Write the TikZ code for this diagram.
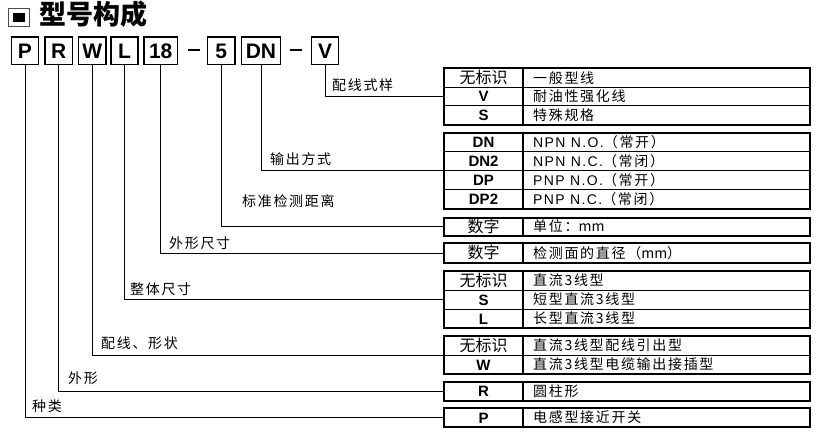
\documentclass[tikz,border=0pt]{standalone}
\usepackage{fontspec}
\setmainfont{Liberation Sans}
\newfontfamily\cj{Noto Sans CJK SC}
\newfontfamily\cjs[LetterSpace=12]{Noto Sans CJK SC}
\newfontfamily\lats[LetterSpace=10]{Liberation Sans}
\begin{document}
\begin{tikzpicture}[x=1pt,y=-1pt,
  hbox/.style={draw, line width=1.8pt, inner sep=0pt, outer sep=0pt, minimum height=27.5pt,
    font=\fontsize{21}{21}\selectfont\bfseries, text height=15pt, text depth=0pt},
  tab/.style={draw, line width=2pt, inner sep=0pt, outer sep=0pt, minimum width=366pt, anchor=north west},
  lbl/.style={anchor=west, inner sep=0pt, font=\cjs\fontsize{14}{14}\selectfont, text height=12.2pt, text depth=1.8pt},
  lcj/.style={anchor=center, inner sep=0pt, font=\cj\fontsize{16}{16}\selectfont, text height=13.9pt, text depth=2.1pt},
  lla/.style={anchor=center, inner sep=0pt, font=\fontsize{15}{15}\selectfont\bfseries, text height=13pt, text depth=2pt},
  rtx/.style={anchor=west, inner sep=0pt, font=\cjs\fontsize{14}{14}\selectfont, text height=12.2pt, text depth=1.8pt},
  conn/.style={line width=1pt},
  rowline/.style={line width=1pt},
  divline/.style={line width=1.5pt}
]
\useasboundingbox (0,0) rectangle (830,436);

% title
\draw[line width=1.2pt, black!70] (8.5,8.5) rectangle (29.5,26.5);
\fill (13,13) rectangle (25,22.5);
\node[anchor=west, inner sep=0pt, font=\cj\fontsize{27}{27}\selectfont\bfseries] (title) at (39,14.5) {型号构成};

% code boxes
\node[hbox, minimum width=27pt] (bP) at (25,50.75) {P};
\node[hbox, minimum width=27.5pt] (bR) at (58.7,50.75) {R};
\node[hbox, minimum width=27.5pt] (bW) at (92.3,50.75) {W};
\node[hbox, minimum width=27pt] (bL) at (124.5,50.75) {L};
\node[hbox, minimum width=33.5pt] (b18) at (160.75,50.75) {18};
\node[hbox, minimum width=27.5pt] (b5) at (221.25,50.75) {5};
\node[hbox, minimum width=39pt] (bDN) at (261,50.75) {DN};
\node[hbox, minimum width=27pt] (bV) at (325,50.75) {V};
\draw[line width=1.2pt] (188,50) -- (200,50);
\draw[line width=1.2pt] (290,50) -- (302,50);

% tables
\node[tab, minimum height=56pt] (t1) at (444,68.5) {};
\draw[rowline] (444,87.17) -- (810,87.17) (444,105.83) -- (810,105.83);
\draw[divline] (523,68.5) -- (523,124.5);
\node[tab, minimum height=76pt] (t2) at (444,132.5) {};
\draw[rowline] (444,151.5) -- (810,151.5) (444,170.5) -- (810,170.5) (444,189.5) -- (810,189.5);
\draw[divline] (523,132.5) -- (523,208.5);
\node[tab, minimum height=18.5pt] (t3) at (444,217.5) {};
\draw[divline] (523,217.5) -- (523,236);
\node[tab, minimum height=20pt] (t4) at (444,243) {};
\draw[divline] (523,243) -- (523,263);
\node[tab, minimum height=57pt] (t5) at (444,271) {};
\draw[rowline] (444,290) -- (810,290) (444,309) -- (810,309);
\draw[divline] (523,271) -- (523,328);
\node[tab, minimum height=38pt] (t6) at (444,336) {};
\draw[rowline] (444,355) -- (810,355);
\draw[divline] (523,336) -- (523,374);
\node[tab, minimum height=18.5pt] (t7) at (444,382) {};
\draw[divline] (523,382) -- (523,400.5);
\node[tab, minimum height=19pt] (t8) at (444,408) {};
\draw[divline] (523,408) -- (523,427);

% table texts
\node[lcj] (r11l) at (483.5,77.8) {无标识};  \node[rtx] (r11r) at (533,77.8) {一般型线};
\node[lla] (r12l) at (483.5,96.5) {V};      \node[rtx] (r12r) at (533,96.5) {耐油性强化线};
\node[lla] (r13l) at (483.5,115.2) {S};     \node[rtx] (r13r) at (533,115.2) {特殊规格};

\node[lla] (r21l) at (483.5,142) {DN};  \node[rtx] (r21r) at (533,142) {{\lats NPN N.O.}（常开）};
\node[lla] (r22l) at (483.5,161) {DN2}; \node[rtx] (r22r) at (533,161) {{\lats NPN N.C.}（常闭）};
\node[lla] (r23l) at (483.5,180) {DP};  \node[rtx] (r23r) at (533,180) {{\lats PNP N.O.}（常开）};
\node[lla] (r24l) at (483.5,199) {DP2}; \node[rtx] (r24r) at (533,199) {{\lats PNP N.C.}（常闭）};

\node[lcj] (r31l) at (483.5,226.75) {数字}; \node[rtx] (r31r) at (533,226.75) {单位：{\cj mm}};
\node[lcj] (r41l) at (483.5,253) {数字};    \node[rtx] (r41r) at (533,253) {检测面的直径（{\cj mm}）};

\node[lcj] (r51l) at (483.5,280.5) {无标识}; \node[rtx] (r51r) at (533,280.5) {直流3线型};
\node[lla] (r52l) at (483.5,299.5) {S};     \node[rtx] (r52r) at (533,299.5) {短型直流3线型};
\node[lla] (r53l) at (483.5,318.5) {L};     \node[rtx] (r53r) at (533,318.5) {长型直流3线型};

\node[lcj] (r61l) at (483.5,345.5) {无标识}; \node[rtx] (r61r) at (533,345.5) {直流3线型配线引出型};
\node[lla] (r62l) at (483.5,364.5) {W};     \node[rtx] (r62r) at (533,364.5) {直流3线型电缆输出接插型};

\node[lla] (r71l) at (483.5,391.25) {R}; \node[rtx] (r71r) at (533,391.25) {圆柱形};
\node[lla] (r81l) at (483.5,417.5) {P};  \node[rtx] (r81r) at (533,417.5) {电感型接近开关};

% connectors
\draw[conn] (bV.south) |- (t1.west);
\draw[conn] (bDN.south) |- (t2.west);
\draw[conn] (b5.south) |- (t3.west);
\draw[conn] (b18.south) |- (t4.west);
\draw[conn] (bL.south) |- (t5.west);
\draw[conn] (bW.south) |- (t6.west);
\draw[conn] (bR.south) |- (t7.west);
\draw[conn] (bP.south) |- (t8.west);

% labels
\node[lbl] (l1) at (332,85) {配线式样};
\node[lbl] (l2) at (270,159) {输出方式};
\node[lbl] (l3) at (242,201.7) {标准检测距离};
\node[lbl] (l4) at (169,243) {外形尺寸};
\node[lbl] (l5) at (130,289) {整体尺寸};
\node[lbl] (l6) at (101,343) {配线、形状};
\node[lbl] (l7) at (68,378) {外形};
\node[lbl] (l8) at (32,406.7) {种类};
\end{tikzpicture}
\end{document}
